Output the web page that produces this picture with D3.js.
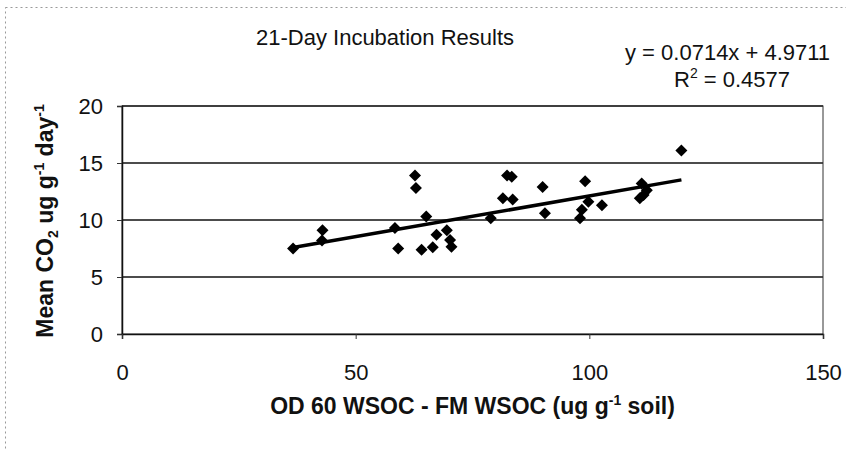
<!DOCTYPE html>
<html>
<head>
<meta charset="utf-8">
<script src="https://cdn.jsdelivr.net/npm/d3@7"></script>
<style>
  body { margin: 0; background: #fff; }
  svg { display: block; font-family: "Liberation Sans", Arial, sans-serif; }
</style>
</head>
<body>
<div id="chart"></div>
<script>
// values
const xValues = [36.6, 42.9, 42.8, 58.4, 59.1, 62.7, 62.9, 65.1, 64.1, 66.5,
                 67.3, 69.5, 70.2, 70.5, 78.9, 82.4, 83.4, 81.5, 83.6, 90.0,
                 90.5, 99.1, 99.8, 102.7, 98.4, 98.0, 111.2, 112.3, 110.8, 111.6, 119.7];
const yValues = [7.5, 9.1, 8.2, 9.3, 7.5, 13.9, 12.8, 10.3, 7.4, 7.6,
                 8.7, 9.1, 8.25, 7.65, 10.15, 13.9, 13.8, 11.9, 11.8, 12.9,
                 10.6, 13.4, 11.6, 11.3, 10.9, 10.15, 13.2, 12.6, 11.9, 12.2, 16.1];
const xTicks = [0, 50, 100, 150];
const yTicks = [0, 5, 10, 15, 20];
const slope = 0.0714, intercept = 4.9711;
const eqText = "y = 0.0714x + 4.9711";
const r2Text = "0.4577";

const W = 846, H = 451;
const m = { left: 122, right: 23, top: 106, bottom: 117 };
const fs = 22;

const svg = d3.select("#chart").append("svg")
    .attr("width", W).attr("height", H);

// chart area border (faint, dotted)
svg.append("rect")
    .attr("x", 5.5).attr("y", 7.5).attr("width", W - 4).attr("height", H)
    .attr("fill", "none").attr("stroke", "#999").attr("stroke-dasharray", "2,3");

const x = d3.scaleLinear().domain([0, 150]).range([m.left, W - m.right]);
const y = d3.scaleLinear().domain([0, 20]).range([H - m.bottom, m.top]);

// gridlines
svg.append("g").selectAll("line").data(yTicks.slice(1)).enter().append("line")
    .attr("x1", x(0)).attr("x2", x(150))
    .attr("y1", d => y(d)).attr("y2", d => y(d))
    .attr("stroke", "#111").attr("stroke-width", 1.5);

// plot border
svg.append("rect")
    .attr("x", x(0)).attr("y", y(20))
    .attr("width", x(150) - x(0)).attr("height", y(0) - y(20))
    .attr("fill", "none").attr("stroke", "#333").attr("stroke-width", 1);

const yAxis = svg.append("g")
    .attr("transform", `translate(${x(0)},0)`)
    .call(d3.axisLeft(y).tickValues(yTicks).tickSize(5).tickPadding(14));
const xAxis = svg.append("g")
    .attr("transform", `translate(0,${y(0)})`)
    .call(d3.axisBottom(x).tickValues(xTicks).tickSize(5).tickPadding(25));
[yAxis, xAxis].forEach(g => {
    g.select(".domain").attr("stroke", "#111").attr("stroke-width", 1.5);
    g.selectAll(".tick line").attr("stroke", "#333");
    g.selectAll("text").attr("font-size", fs).attr("fill", "#111")
        .attr("font-family", "Liberation Sans, Arial, sans-serif");
});

// trendline
const xr = d3.extent(xValues);
svg.append("line")
    .attr("x1", x(xr[0])).attr("y1", y(slope * xr[0] + intercept))
    .attr("x2", x(xr[1])).attr("y2", y(slope * xr[1] + intercept))
    .attr("stroke", "#000").attr("stroke-width", 3.5);

// points
const diamond = d3.symbol(d3.symbolSquare, 72);
svg.append("g").selectAll("path").data(xValues).enter().append("path")
    .attr("d", diamond)
    .attr("transform", (d, i) => `translate(${x(d)},${y(yValues[i])}) rotate(45)`)
    .attr("fill", "#000");

// title
svg.append("text")
    .attr("x", 256).attr("y", 45)
    .attr("font-size", fs).attr("fill", "#111")
    .text("21-Day Incubation Results");

// equation
svg.append("text")
    .attr("x", 625).attr("y", 60)
    .attr("font-size", fs).attr("fill", "#111")
    .text(eqText);
const r2 = svg.append("text")
    .attr("x", 674).attr("y", 87)
    .attr("font-size", fs).attr("fill", "#111");
r2.append("tspan").text("R");
r2.append("tspan").attr("font-size", 14).attr("dy", -9).text("2");
r2.append("tspan").attr("dy", 9).text(" = " + r2Text);

// x label
const xl = svg.append("text")
    .attr("x", (x(0) + x(150)) / 2).attr("y", 414).attr("text-anchor", "middle")
    .attr("font-size", 23).attr("font-weight", "bold").attr("fill", "#111");
xl.append("tspan").text("OD 60 WSOC - FM WSOC (ug g");
xl.append("tspan").attr("font-size", 14).attr("dy", -9).text("-1");
xl.append("tspan").attr("dy", 9).text(" soil)");

// y label
const yl = svg.append("text")
    .attr("transform", "translate(53,221) rotate(-90)")
    .attr("text-anchor", "middle")
    .attr("font-size", 23).attr("font-weight", "bold").attr("fill", "#111");
yl.append("tspan").text("Mean CO");
yl.append("tspan").attr("font-size", 14).attr("dy", 5).text("2");
yl.append("tspan").attr("dy", -5).text(" ug g");
yl.append("tspan").attr("font-size", 14).attr("dy", -9).text("-1");
yl.append("tspan").attr("dy", 9).text(" day");
yl.append("tspan").attr("font-size", 14).attr("dy", -9).text("-1");
</script>
</body>
</html>
